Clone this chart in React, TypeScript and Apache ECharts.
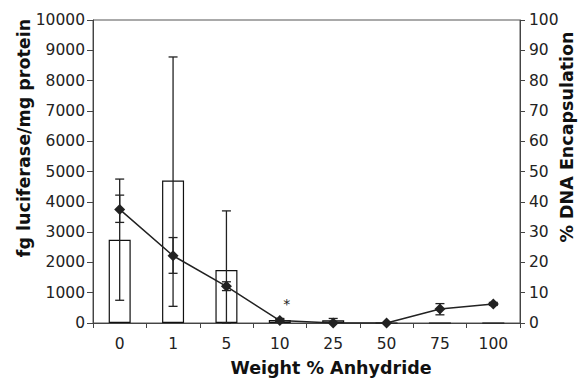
import React, { useEffect, useRef } from "react";
import * as echarts from "echarts";

const categories = ["0", "1", "5", "10", "25", "50", "75", "100"];
const luciferase = [2750, 4700, 1750, 100, 90, 0, 0, 0];
const lucLow = [750, 550, 0, 50, 20, 0, 0, 0];
const lucHigh = [4750, 8780, 3700, 150, 150, 0, 0, 0];
const encapsulation = [37.5, 22.2, 12.1, 0.8, 0, 0, 4.6, 6.3];
const encLow = [33.2, 16.4, 10.7, 0.3, 0, 0, 2.7, 5.8];
const encHigh = [42.2, 28.2, 13.6, 1.3, 0, 0, 6.4, 6.8];

const xTitle = "Weight % Anhydride";
const leftTitle = "fg luciferase/mg protein";
const rightTitle = "% DNA Encapsulation";

const lineColor = "#222";

function errorItem(capHalf: number) {
  return (params: any, api: any) => {
    const x = api.value(0);
    const lo = api.value(1);
    const hi = api.value(2);
    if (hi - lo <= 0) return null;
    const pLo = api.coord([x, lo]);
    const pHi = api.coord([x, hi]);
    const style = { stroke: lineColor, lineWidth: 1.3 };
    return {
      type: "group",
      children: [
        { type: "line", shape: { x1: pLo[0], y1: pLo[1], x2: pHi[0], y2: pHi[1] }, style },
        { type: "line", shape: { x1: pHi[0] - capHalf, y1: pHi[1], x2: pHi[0] + capHalf, y2: pHi[1] }, style },
        { type: "line", shape: { x1: pLo[0] - capHalf, y1: pLo[1], x2: pLo[0] + capHalf, y2: pLo[1] }, style },
      ],
    };
  };
}

export default function App() {
  const ref = useRef<HTMLDivElement>(null);
  useEffect(() => {
    if (!ref.current) return;
    const chart = echarts.init(ref.current, undefined, { renderer: "svg" });
    const font = "DejaVu Sans, sans-serif";
    const titleText = (text: string) => ({
      text,
      fill: "#111",
      fontSize: 17.5,
      fontWeight: "bold",
      fontFamily: font,
      align: "center",
      verticalAlign: "middle",
    });
    const tickLabel = { color: "#222", fontSize: 15.5, fontFamily: font };
    chart.setOption({
      animation: false,
      textStyle: { fontFamily: font },
      grid: {
        left: 93,
        right: 58,
        top: 20,
        bottom: 57,
        show: true,
        borderColor: "#555",
        borderWidth: 1,
        backgroundColor: "transparent",
      },
      graphic: [
        { type: "text", x: 331, y: 368, style: titleText(xTitle) },
        { type: "text", x: 24, y: 138, rotation: Math.PI / 2, style: titleText(leftTitle) },
        { type: "text", x: 567, y: 137, rotation: Math.PI / 2, style: titleText(rightTitle) },
      ],
      xAxis: {
        type: "category",
        data: categories,
        axisLine: { lineStyle: { color: "#444", width: 1 } },
        axisTick: { show: true, length: 5, lineStyle: { color: "#444" } },
        axisLabel: { ...tickLabel, margin: 13 },
      },
      yAxis: [
        {
          type: "value",
          min: 0,
          max: 10000,
          interval: 1000,
          splitLine: { show: false },
          axisLine: { show: true, lineStyle: { color: "#444" } },
          axisTick: { show: true, length: 6, lineStyle: { color: "#444" } },
          axisLabel: { ...tickLabel, margin: 8, formatter: (v: number) => String(v) },
        },
        {
          type: "value",
          position: "right",
          min: 0,
          max: 100,
          interval: 10,
          splitLine: { show: false },
          axisLine: { show: true, lineStyle: { color: "#444" } },
          axisTick: { show: true, length: 5, lineStyle: { color: "#444" } },
          axisLabel: { ...tickLabel, margin: 9, formatter: (v: number) => String(v) },
        },
      ],
      series: [
        {
          type: "bar",
          yAxisIndex: 0,
          barWidth: 22,
          data: luciferase.map((v, i) =>
            i === 3
              ? {
                  value: v,
                  label: {
                    show: true,
                    position: "top",
                    formatter: "*",
                    offset: [7, -4],
                    fontSize: 14,
                    color: "#222",
                    fontFamily: font,
                  },
                }
              : v
          ),
          itemStyle: { color: "#fff", borderColor: "#111", borderWidth: 1.2 },
          z: 2,
        },
        {
          type: "custom",
          yAxisIndex: 0,
          renderItem: errorItem(4.5),
          data: categories.map((_, i) => [i, lucLow[i], lucHigh[i]]),
          z: 3,
        },
        {
          type: "line",
          yAxisIndex: 1,
          data: encapsulation,
          symbol: "diamond",
          symbolSize: 11,
          lineStyle: { color: lineColor, width: 1.5 },
          itemStyle: { color: lineColor },
          z: 4,
        },
        {
          type: "custom",
          yAxisIndex: 1,
          renderItem: errorItem(4.5),
          data: categories.map((_, i) => [i, encLow[i], encHigh[i]]),
          z: 5,
        },
      ],
    });
    return () => chart.dispose();
  }, []);
  return (
    <div
      ref={ref}
      style={{ position: "absolute", left: 0, top: 0, width: 578, height: 380 }}
    />
  );
}
